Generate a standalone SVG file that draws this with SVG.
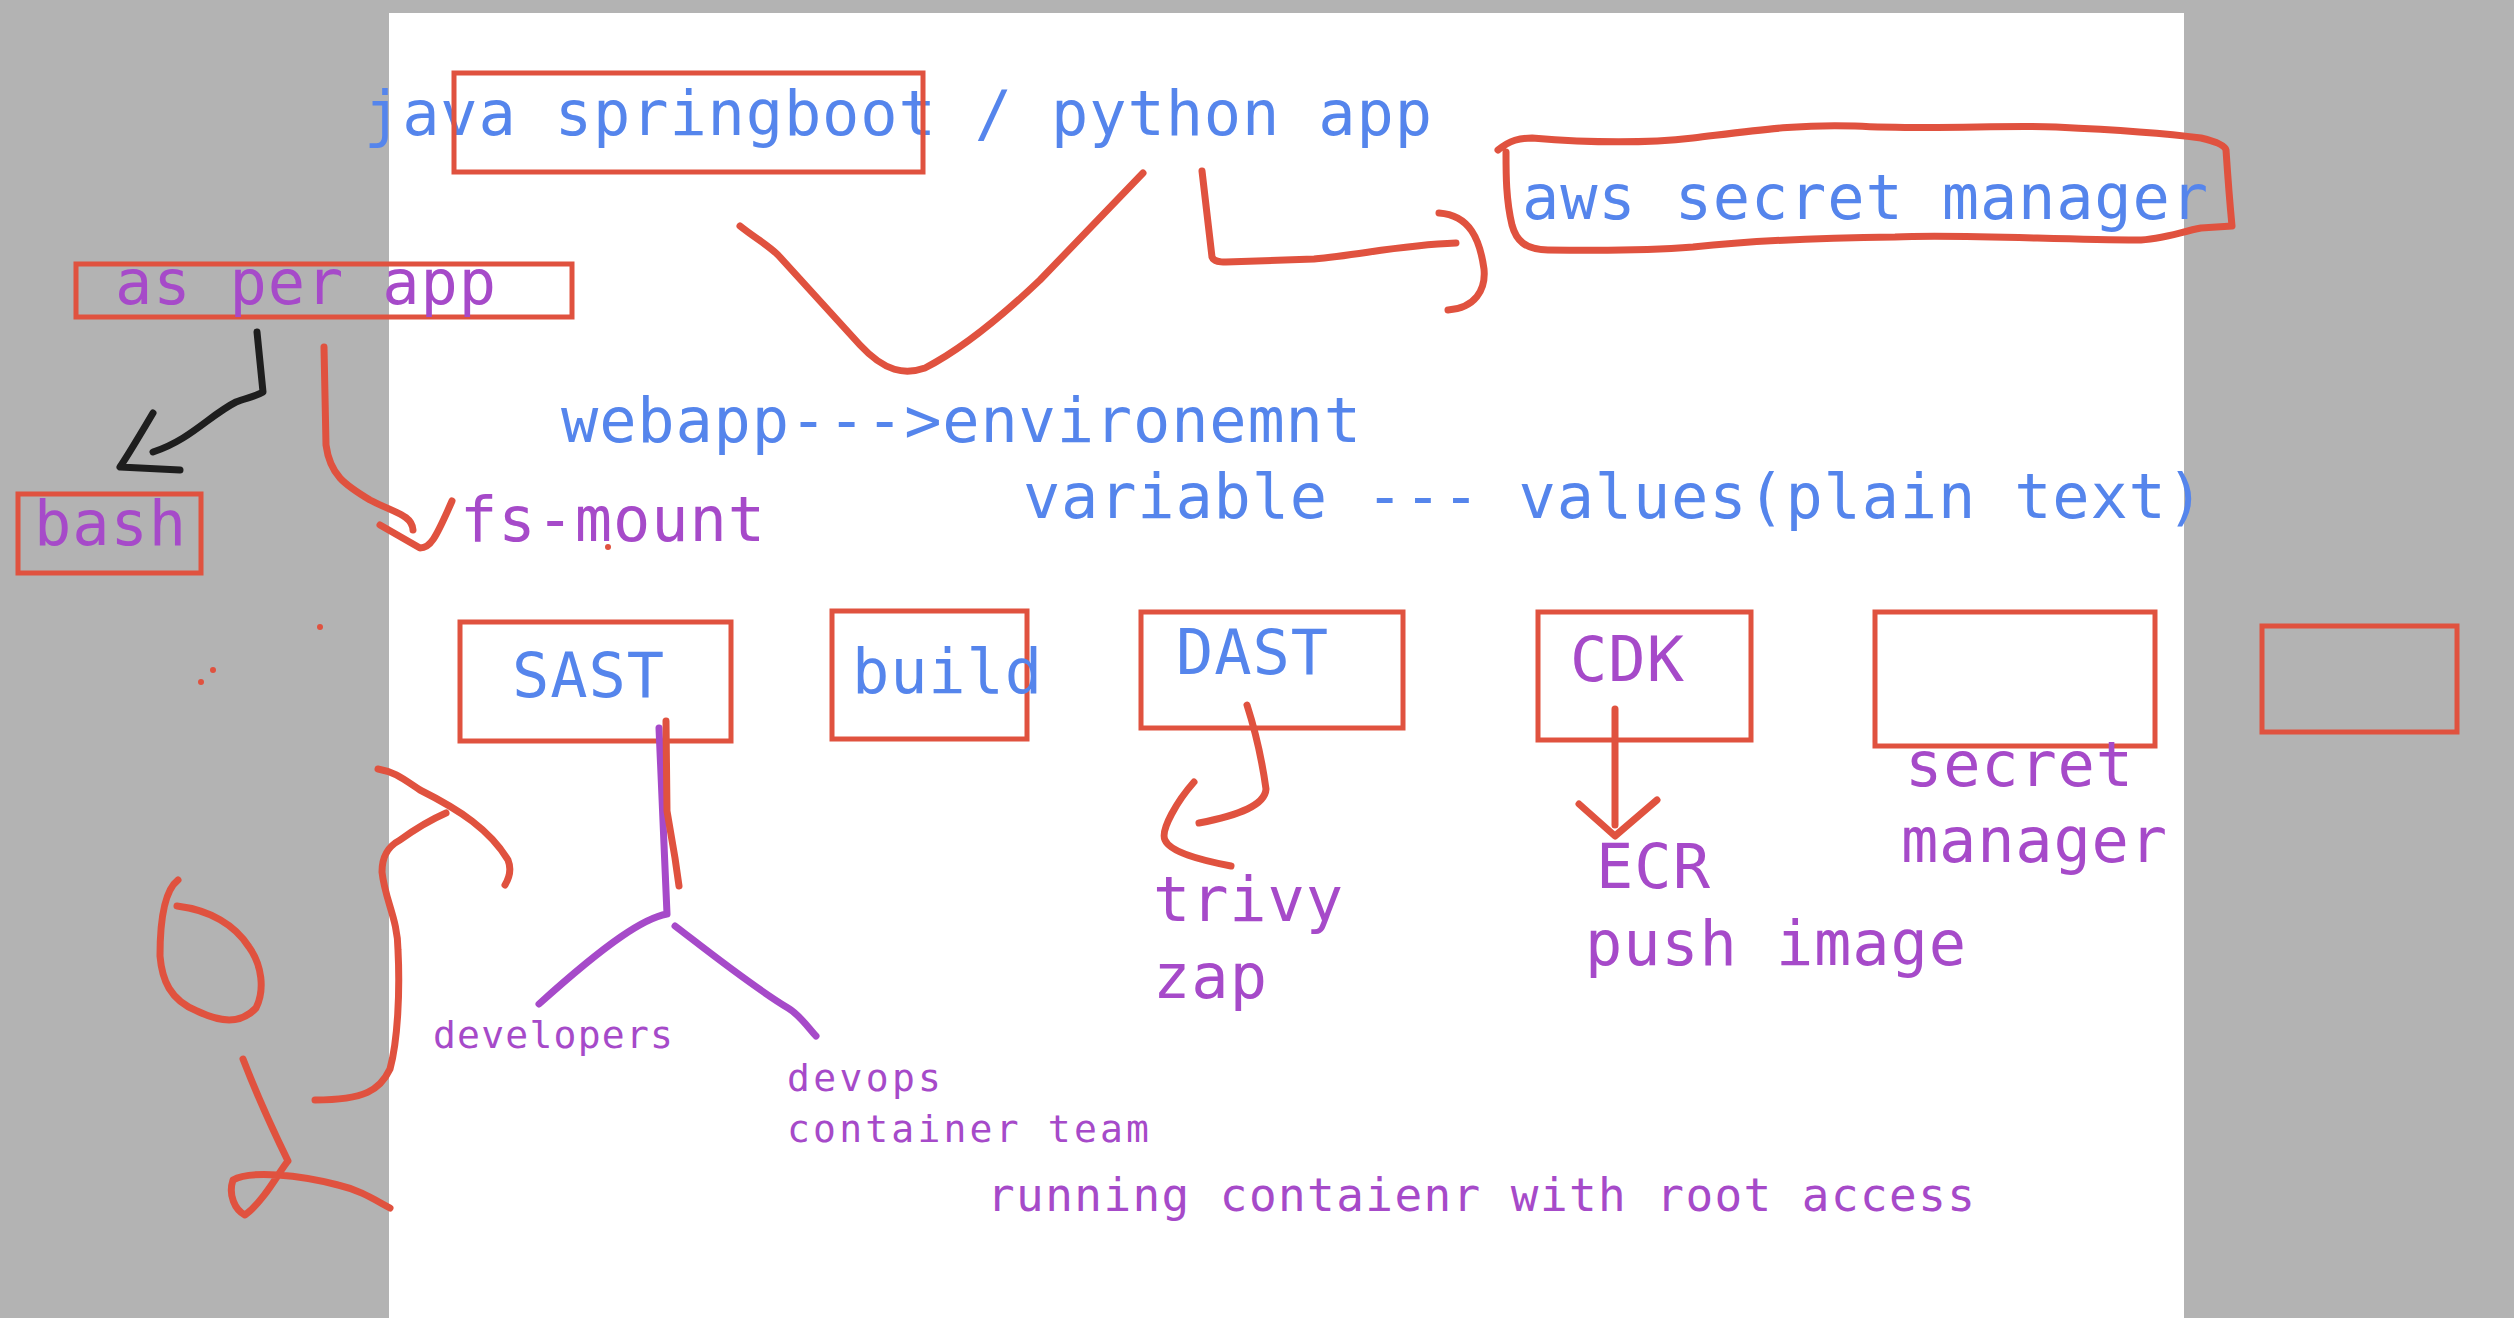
<svg xmlns="http://www.w3.org/2000/svg" width="2514" height="1318" viewBox="0 0 2514 1318">
<style>
.t{font-family:"DejaVu Sans Mono","Liberation Mono",monospace;font-size:62px}
.s{font-size:38px}
.m{font-size:46px}
.b{fill:#5585ec}
.p{fill:#a64ac9}
.box{fill:none;stroke:#e0523f;stroke-width:5}
.ink{fill:none;stroke:#e0523f;stroke-width:7;stroke-linecap:round;stroke-linejoin:round}
.pk{fill:none;stroke:#a64ac9;stroke-width:7;stroke-linecap:round;stroke-linejoin:round}
.bk{fill:none;stroke:#1e1e1e;stroke-width:7;stroke-linecap:round;stroke-linejoin:round}
</style>
<rect x="0" y="0" width="2514" height="1318" fill="#b3b3b3"/>
<rect x="389" y="13" width="1795" height="1305" fill="#ffffff"/>

<g id="java-app"><text class="t b" x="364" y="135" textLength="1068">java springboot / python app</text></g>
<g id="springboot-box"><rect class="box" x="454" y="73" width="469" height="99"/></g>
<g id="aws-secret-manager">
<path class="ink" d="M1498,150 C1510,140 1520,138 1532,138 C1580,142 1640,144 1693,138 C1760,130 1800,124 1855,126 C1930,130 2000,125 2056,127 C2120,130 2170,134 2201,138 C2218,142 2225,146 2226,150 C2228,180 2230,205 2232,226 L2201,228 C2180,232 2160,240 2137,240 C2060,240 1960,234 1895,237 C1800,238 1740,242 1693,247 C1630,252 1580,250 1548,250 C1525,250 1516,240 1512,225 C1506,200 1506,175 1506,152"/>
<text class="t b" x="1522" y="219" textLength="686">aws secret manager</text>
</g>
<g id="as-per-app"><rect class="box" x="76" y="264" width="496" height="53"/><text class="t p" x="115" y="304" textLength="381">as per app</text></g>
<g id="bash"><rect class="box" x="18" y="494" width="183" height="79"/><text class="t p" x="34" y="545" textLength="152">bash</text></g>
<g id="fs-mount"><text class="t p" x="460" y="541" textLength="305">fs-mount</text></g>
<g id="env-text">
<text class="t b" x="561" y="442" textLength="800">webapp---&gt;environemnt</text>
<text class="t b" x="1023" y="518" textLength="1181">variable --- values(plain text)</text>
</g>
<g id="sast"><rect class="box" x="460" y="622" width="271" height="119"/><text class="t b" x="512" y="697" textLength="152">SAST</text></g>
<g id="build"><rect class="box" x="832" y="611" width="195" height="128"/><text class="t b" x="852" y="693" textLength="190">build</text></g>
<g id="dast"><rect class="box" x="1141" y="612" width="262" height="116"/><text class="t b" x="1176" y="674" textLength="152">DAST</text></g>
<g id="cdk"><rect class="box" x="1538" y="612" width="213" height="128"/><text class="t p" x="1570" y="681" textLength="114">CDK</text></g>
<g id="secret-box"><rect class="box" x="1875" y="612" width="280" height="134"/></g>
<g id="grey-box"><rect class="box" x="2262" y="626" width="195" height="106"/></g>
<g id="secret-manager-label"><text class="t p" x="1905" y="786" textLength="228">secret</text><text class="t p" x="1901" y="862" textLength="266">manager</text></g>
<g id="ecr"><text class="t p" x="1596" y="888" textLength="114">ECR</text><text class="t p" x="1585" y="965" textLength="381">push image</text></g>
<g id="trivy-zap"><text class="t p" x="1153" y="921" textLength="190">trivy</text><text class="t p" x="1153" y="998" textLength="114">zap</text></g>
<g id="developers"><text class="t s p" x="433" y="1048" textLength="240">developers</text></g>
<g id="devops"><text class="t s p" x="787" y="1091" textLength="154">devops</text><text class="t s p" x="787" y="1142" textLength="362">container team</text></g>
<g id="running"><text class="t m p" x="987" y="1211" textLength="988">running contaienr with root access</text></g>

<g id="connectors">
<path class="ink" d="M740,226 C755,238 768,245 778,255 L860,345 C885,372 905,375 925,368 C960,350 1000,318 1040,280 L1143,173"/>
<path class="ink" d="M1202,171 L1212,257 C1214,262 1220,262 1226,262 L1314,259 C1360,255 1400,245 1456,243"/>
<path class="ink" d="M1439,213 C1470,215 1480,240 1484,269 C1486,290 1475,308 1448,310"/>
<path class="bk" d="M257,332 L263,392 C255,397 245,398 236,402 C210,415 190,440 153,452 M153,413 C140,435 128,455 120,467 L180,470"/>
<path class="ink" d="M324,347 L326,445 C330,475 345,485 370,500 C395,513 412,515 413,530 M380,525 L420,548 C430,548 435,540 452,501"/>
<path class="pk" d="M659,728 L667,914 M667,914 C645,918 610,940 539,1004 M675,926 C700,945 750,985 788,1008 C800,1015 810,1030 816,1036"/>
<path class="ink" d="M666,721 L667,811 L675,858 L679,886"/>
<path class="ink" d="M1247,705 C1255,730 1262,760 1266,789 C1265,805 1240,815 1199,823 M1194,782 C1178,800 1160,830 1165,840 C1170,852 1200,860 1231,866"/>
<path class="ink" d="M1615,709 L1615,825 M1579,804 L1615,836 L1657,800"/>
<path class="ink" d="M378,769 C395,772 402,778 420,790 C460,810 490,830 508,860 C512,870 508,880 505,885"/>
<path class="ink" d="M446,813 C430,820 418,827 400,840 C385,848 382,860 382,872 C385,900 398,920 398,950 C400,990 398,1040 390,1069 C380,1090 365,1100 315,1100"/>
<path class="ink" d="M178,880 C165,890 160,920 160,956 C162,980 170,1000 197,1011 C220,1022 240,1025 256,1008 C265,990 262,965 249,947 C235,925 210,910 177,906"/>
<path class="ink" d="M243,1059 C255,1090 268,1120 288,1161 C280,1170 265,1200 245,1215 C235,1210 228,1195 233,1180 C250,1170 300,1175 338,1185 C360,1190 375,1200 390,1208"/>
<circle cx="320" cy="627" r="3" fill="#e0523f"/>
<circle cx="213" cy="670" r="3" fill="#e0523f"/>
<circle cx="201" cy="682" r="3" fill="#e0523f"/>
<circle cx="608" cy="547" r="3" fill="#e0523f"/>
</g>
</svg>
